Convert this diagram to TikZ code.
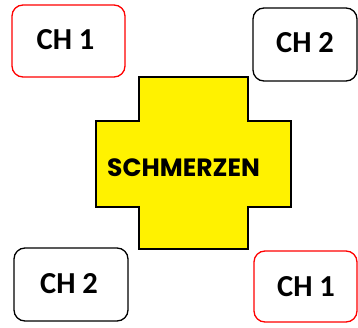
\documentclass[tikz,border=0pt]{standalone}
\usepackage{fontspec}
\setmainfont{Carlito}
\newfontfamily\geofont{Poppins}
\begin{document}
\begin{tikzpicture}[x=1pt,y=1pt,
  chbox/.style={draw, line width=1.3pt, rounded corners=11pt, fill=white},
  chred/.style={chbox, draw=red},
  chblack/.style={chbox, draw=black},
  chtext/.style={font=\fontsize{30.5}{35}\selectfont\bfseries, text=black},
  cross/.style={draw=black, line width=2pt, fill=yellow}]
\useasboundingbox (0,0) rectangle (358,327);
% boxes
\path[chred] (12,250) rectangle (125,322);
\node[chtext] (tl) at (65.5,287) {CH 1};
\path[chblack] (253,246) rectangle (357,319);
\node[chtext] (tr) at (305,284) {CH 2};
\path[chblack] (14,6) rectangle (128,79);
\node[chtext] (bl) at (69,43) {CH 2};
\path[chred] (254,5) rectangle (357,76);
\node[chtext] (br) at (306,40) {CH 1};
% cross
\draw[cross] (139,250) -- (248,250) -- (248,206) -- (291,206) -- (291,120) -- (248,120) -- (248,78) -- (139,78) -- (139,120) -- (96,120) -- (96,206) -- (139,206) -- cycle;
\node[font=\geofont\fontsize{25}{30}\selectfont\bfseries, inner sep=0pt] (sc) at (183.5,159.5) {SCHMERZEN};
\end{tikzpicture}
\end{document}
